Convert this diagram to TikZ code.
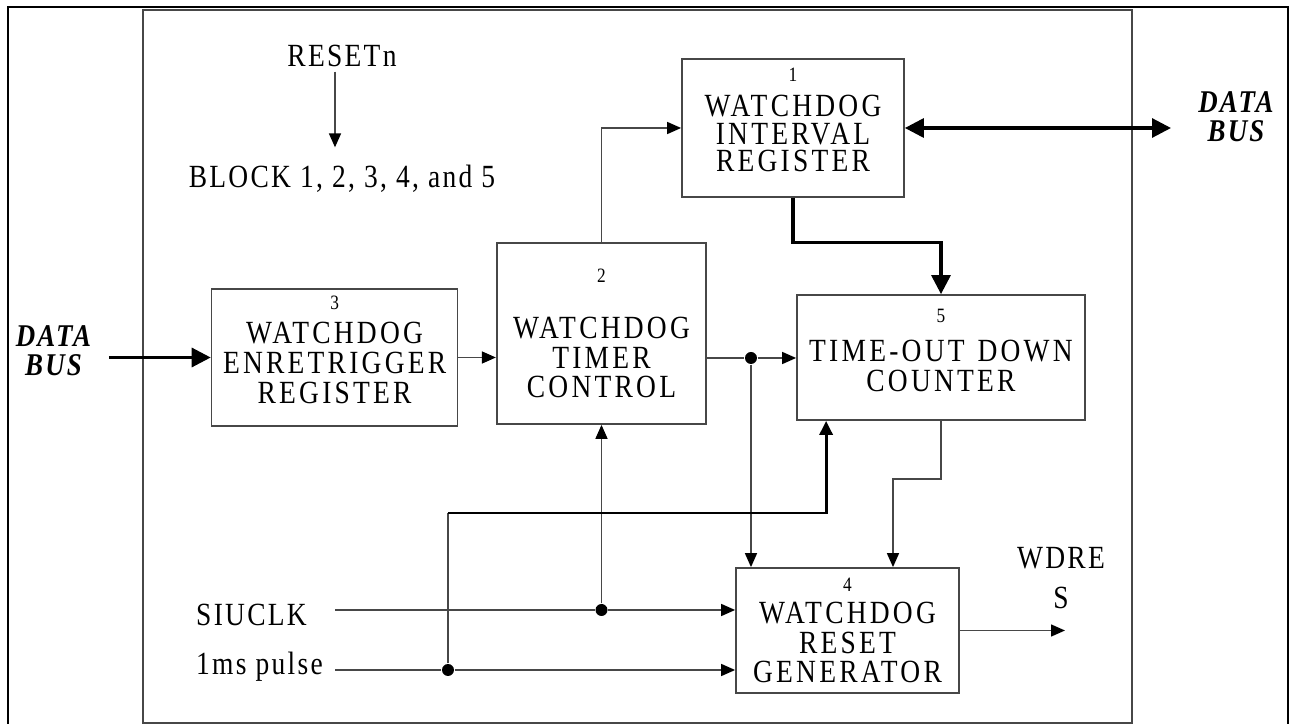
\documentclass[tikz,border=0pt]{standalone}
\usepackage{fontspec}
\setmainfont{Liberation Serif}[FakeStretch=0.85,LetterSpace=7]
\newfontfamily\blkfamily{Liberation Serif}[FakeStretch=0.85,LetterSpace=10]
\usetikzlibrary{arrows.meta}

\colorlet{wiregray}{black!72}
\newcommand{\blkfont}{\blkfamily\fontsize{9.2}{8.5}\selectfont}
\newcommand{\lblfont}{\fontsize{9.2}{8.5}\selectfont}
\newcommand{\blknum}[1]{{\fontsize{5.8}{6}\selectfont #1}}

\begin{document}
\begin{tikzpicture}[
  blk/.style={draw=wiregray, line width=0.5pt, align=center, inner sep=1pt, font=\blkfont},
  txt/.style={inner sep=1pt, font=\lblfont},
  buslbl/.style={inner sep=1pt, align=center, font=\fontsize{9}{8.2}\selectfont\bfseries\itshape},
  dot/.style={circle, fill=black, inner sep=0pt, minimum size=1.2mm},
  wire/.style={draw=wiregray, line width=0.45pt},
  sig/.style={wire, -{Triangle[length=1.4mm,width=1.2mm,black]}},
  bus/.style={line width=0.9pt, -{Triangle[length=1.9mm,width=1.9mm]}},
  clkbus/.style={line width=0.85pt, -{Triangle[length=1.4mm,width=1.3mm]}}
]
\useasboundingbox (0,0) rectangle (12.89,7.24);
% frames
\draw[line width=0.8pt] (0.08,0) |- (12.88,7.17) -- (12.88,0);
\draw[wiregray, line width=0.5pt] (1.43,0.01) rectangle (11.32,7.14);

% blocks (trailing short line lifts the text a little)
\node[blk, minimum width=2.22cm, minimum height=1.38cm] (ivr) at (7.93,5.96)
  {\blknum{1}\\[1.4pt]WATCHDOG\\[-0.6pt]INTERVAL\\[-0.6pt]REGISTER\\[-4pt]\mbox{}};
\node[blk, minimum width=2.095cm, minimum height=1.81cm] (wtc) at (6.015,3.905)
  {\blknum{2}\\[7.4pt]WATCHDOG\\TIMER\\CONTROL};
\node[blk, minimum width=2.46cm, minimum height=1.37cm] (wer) at (3.346,3.665)
  {\blknum{3}\\[1.4pt]WATCHDOG\\ENRETRIGGER\\REGISTER\\[-4pt]\mbox{}};
\node[blk, minimum width=2.88cm, minimum height=1.25cm] (tdc) at (9.41,3.665)
  {\blknum{5}\\[2.5pt]TIME-OUT\hspace{0.4em}DOWN\\COUNTER\\[-4.5pt]\mbox{}};
\node[blk, minimum width=2.23cm, minimum height=1.25cm] (wrg) at (8.475,0.935)
  {\blknum{4}\\[0.6pt]WATCHDOG\\RESET\\GENERATOR};

% labels
\node[txt, anchor=base] (rst) at (3.42,6.57) {RESETn};
\node[txt, anchor=base] (blkall) at (3.42,5.36) {BLOCK 1, 2, 3, 4, and 5};
\node[buslbl] (dbl) at (0.535,3.73) {DATA\\BUS};
\node[buslbl] (dbr) at (12.36,6.07) {DATA\\BUS};
\node[txt, anchor=base west] (siu) at (1.92,0.98) {SIUCLK};
\node[txt, anchor=base west] (pls) at (1.92,0.49) {1ms pulse};
\node[txt, align=center, font=\fontsize{9.2}{11.3}\selectfont] (wdres) at (10.61,1.46) {WDRE\\S};

% junctions
\node[dot] (dotA) at (7.51,3.66) {};
\node[dot] (dotB) at (6.015,1.14) {};
\node[dot] (dotC) at (4.48,0.54) {};
\coordinate (busin) at (1.09,3.665);
\coordinate (busout) at (11.71,5.96);
\coordinate (siuin) at (3.35,1.14);
\coordinate (plsin) at (3.35,0.54);
\coordinate (jclk) at (4.48,2.11);
\coordinate (wdout) at (10.65,0.935);

% connections
\draw[sig] ([xshift=-0.7mm]rst.south) -- ([xshift=-0.7mm,yshift=1.4mm]blkall.north);
\draw[bus] (busin) -- (wer.west);
\draw[sig] (wer.east) -- (wtc.west |- wer.east);
\draw[wire] (dotA -| wtc.east) -- (dotA);
\draw[sig] (dotA) -- (dotA -| tdc.west);
\draw[sig] (wtc.north) |- (ivr.west);
\draw[line width=0.9pt, {Triangle[length=1.9mm,width=1.9mm]}-{Triangle[length=1.9mm,width=1.9mm]}] (ivr.east) -- (busout);
\draw[bus] (ivr.south) -- ++(0,-0.45) -| (tdc.north);
\draw[sig] (dotA) -- (dotA |- wrg.north);
\draw[sig] (tdc.south) -- ++(0,-0.58) -| ([xshift=4.55mm]wrg.north);
\draw[wire] (siuin) -- (dotB);
\draw[sig] (dotB) -- (dotB -| wrg.west);
\draw[sig] (dotB) -- (wtc.south);
\draw[wire] (plsin) -- (dotC);
\draw[sig] (dotC) -- (dotC -| wrg.west);
\draw[wire] (dotC) -- (jclk);
\draw[clkbus] (jclk) -| ([xshift=3mm]tdc.south west);
\draw[sig] (wrg.east) -- (wdout);
\end{tikzpicture}
\end{document}
